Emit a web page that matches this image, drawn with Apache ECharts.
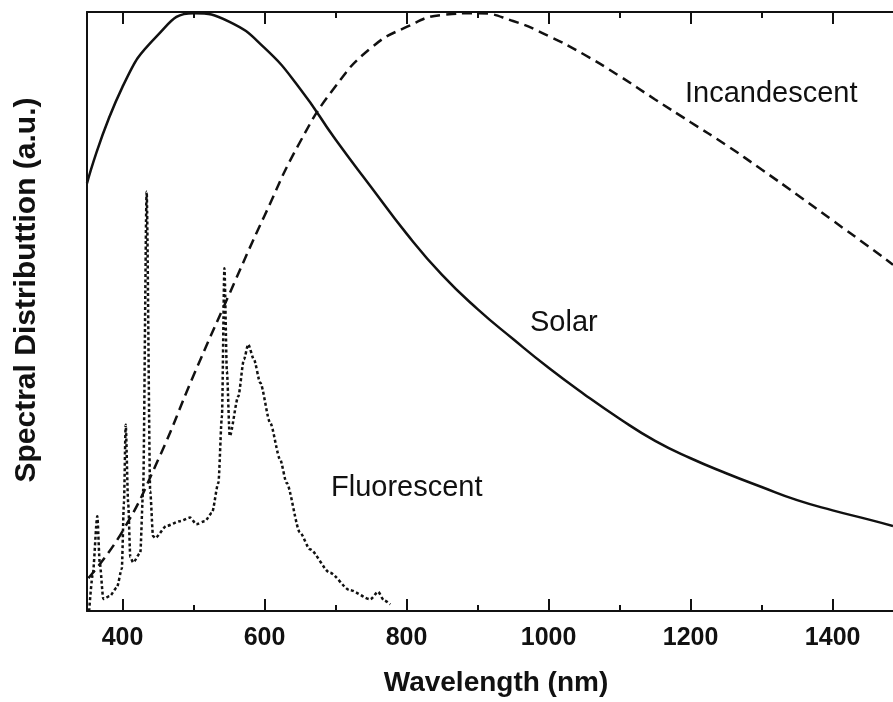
<!DOCTYPE html>
<html>
<head>
<meta charset="utf-8">
<script src="https://cdn.jsdelivr.net/npm/echarts@6/dist/echarts.min.js"></script>
<style>
  html, body { margin: 0; padding: 0; background: #fff; }
  #chart { width: 893px; height: 702px; }
</style>
</head>
<body>
<div id="chart"></div>
<script>
// wavelength axis
const xMin = 350;
const xMax = 1485;
const majorTicks = [400, 600, 800, 1000, 1200, 1400];
const minorTicks = [500, 700, 900, 1100, 1300];

// solar spectrum (normalised)
const solarNm = [350, 400, 450, 500, 550, 600, 650, 700, 750, 800, 850, 900, 950, 1000, 1050, 1100, 1150, 1200, 1250, 1300, 1350, 1400, 1450, 1485];
const solarVal = [0.714, 0.875, 0.962, 0.998, 0.984, 0.94, 0.872, 0.787, 0.708, 0.63, 0.561, 0.504, 0.454, 0.406, 0.362, 0.321, 0.284, 0.255, 0.23, 0.207, 0.185, 0.168, 0.153, 0.142];

// incandescent spectrum
const incNm = [352, 400, 450, 500, 550, 600, 650, 700, 750, 800, 850, 900, 950, 1000, 1050, 1100, 1150, 1200, 1250, 1300, 1350, 1400, 1450, 1485];
const incVal = [0.055, 0.133, 0.252, 0.393, 0.528, 0.66, 0.783, 0.876, 0.94, 0.975, 0.995, 0.998, 0.985, 0.96, 0.929, 0.893, 0.854, 0.816, 0.778, 0.737, 0.695, 0.652, 0.609, 0.578];

// fluorescent spectrum
const fluNm = [353, 358, 364.5, 368, 373, 382, 392, 399, 402, 404.5, 408, 411, 415, 425, 429, 434, 439, 443, 446, 462, 481, 495, 504, 516, 526, 535, 540, 543.5, 547, 551, 563, 571, 577, 585, 594, 608, 622, 631, 650, 664, 692, 720, 749, 760, 768, 777];
const fluVal = [0.0, 0.06, 0.158, 0.08, 0.02, 0.025, 0.039, 0.07, 0.18, 0.311, 0.18, 0.09, 0.081, 0.097, 0.2, 0.70, 0.2, 0.125, 0.122, 0.142, 0.15, 0.156, 0.145, 0.15, 0.164, 0.214, 0.325, 0.572, 0.4, 0.292, 0.358, 0.42, 0.445, 0.42, 0.381, 0.314, 0.253, 0.214, 0.131, 0.103, 0.064, 0.035, 0.0195, 0.032, 0.018, 0.011];

const font = "'Liberation Sans', Arial, sans-serif";
const ink = "#111";

function pairs(xs, ys) {
    return xs.map((x, i) => [x, ys[i]]);
}

function tickAxis(position, values, length, showLine, showLabel) {
    return {
        type: "value",
        position: position,
        min: xMin,
        max: xMax,
        splitLine: { show: false },
        axisLine: { show: showLine, onZero: false, lineStyle: { color: ink, width: 2 } },
        axisTick: {
            show: true,
            inside: true,
            length: length,
            customValues: values,
            lineStyle: { color: ink, width: 2 }
        },
        axisLabel: {
            show: showLabel,
            customValues: values,
            margin: 15,
            color: ink,
            fontFamily: font,
            fontWeight: "bold",
            fontSize: 25,
            formatter: (v) => String(v)
        }
    };
}

const xBottom = tickAxis("bottom", majorTicks, 12, true, true);
xBottom.name = "Wavelength (nm)";
xBottom.nameLocation = "middle";
xBottom.nameGap = 58;
xBottom.nameTextStyle = { color: ink, fontFamily: font, fontWeight: "bold", fontSize: 28, padding: [0, 0, 0, 12] };

const chart = echarts.init(document.getElementById("chart"), null, { renderer: "canvas" });

chart.setOption({
    backgroundColor: "#fff",
    animation: false,
    grid: { left: 87, right: 0, top: 12, bottom: 90 },
    xAxis: [
        xBottom,
        tickAxis("bottom", minorTicks, 6, false, false),
        tickAxis("top", majorTicks, 12, true, false),
        tickAxis("top", minorTicks, 6, false, false)
    ],
    yAxis: {
        type: "value",
        min: 0,
        max: 1,
        splitLine: { show: false },
        axisTick: { show: false },
        axisLabel: { show: false },
        axisLine: { show: true, lineStyle: { color: ink, width: 2 } }
    },
    graphic: [
        {
            type: "text",
            x: 27,
            y: 290,
            rotation: Math.PI / 2,
            style: {
                text: "Spectral Distributtion (a.u.)",
                fill: ink,
                font: "bold 30px " + font,
                align: "center",
                verticalAlign: "middle"
            }
        },
        { type: "text", left: 685, top: 79, style: { text: "Incandescent", fill: ink, font: "29px " + font } },
        { type: "text", left: 530, top: 308, style: { text: "Solar", fill: ink, font: "29px " + font } },
        { type: "text", left: 331, top: 473, style: { text: "Fluorescent", fill: ink, font: "29px " + font } }
    ],
    series: [
        {
            name: "Solar",
            type: "line",
            smooth: true,
            showSymbol: false,
            data: pairs(solarNm, solarVal),
            lineStyle: { color: ink, width: 2.5 }
        },
        {
            name: "Incandescent",
            type: "line",
            smooth: true,
            showSymbol: false,
            data: pairs(incNm, incVal),
            lineStyle: { color: ink, width: 2.5, type: [10, 6] }
        },
        {
            name: "Fluorescent",
            type: "line",
            smooth: 0.25,
            smoothMonotone: "x",
            showSymbol: false,
            data: pairs(fluNm, fluVal),
            lineStyle: { color: ink, width: 2.5, type: [3, 2.5] }
        }
    ]
});

window.addEventListener("resize", () => chart.resize());
</script>
</body>
</html>
